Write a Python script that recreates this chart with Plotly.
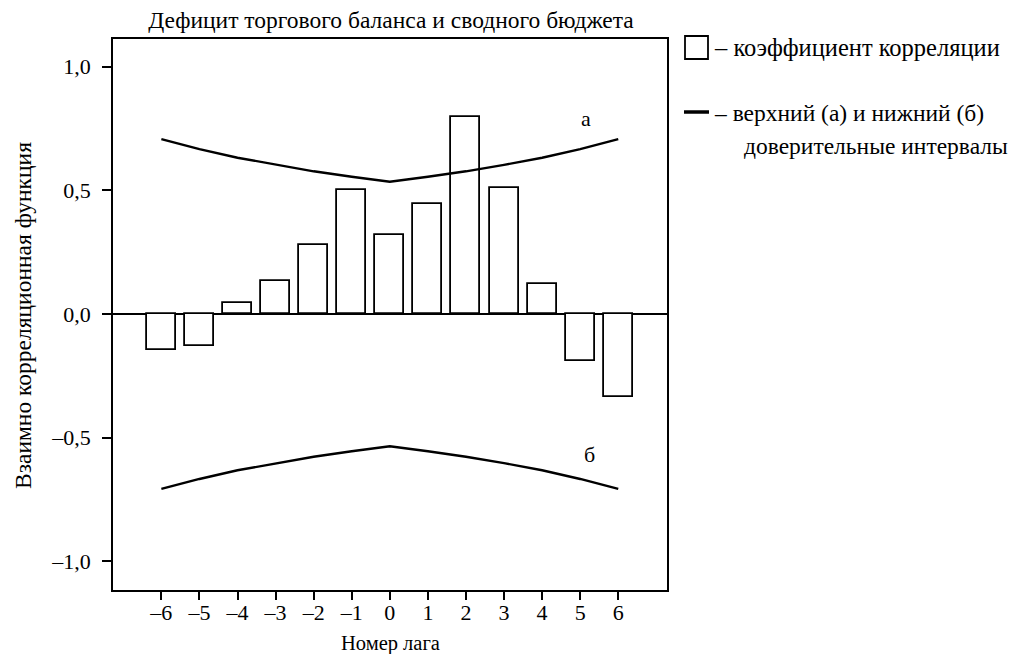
import plotly.graph_objects as go

lags = [-6, -5, -4, -3, -2, -1, 0, 1, 2, 3, 4, 5, 6]
ccf = [-0.145, -0.13, 0.044, 0.133, 0.28, 0.50, 0.32, 0.443, 0.795, 0.508, 0.12, -0.19, -0.334]
upper = [0.707, 0.667, 0.632, 0.603, 0.577, 0.555, 0.535, 0.555, 0.577, 0.603, 0.632, 0.667, 0.707]
lower = [-0.707, -0.667, -0.632, -0.603, -0.577, -0.555, -0.535, -0.555, -0.577, -0.603, -0.632, -0.667, -0.707]
ytick_vals = [1.0, 0.5, 0.0, -0.5, -1.0]
ytick_text = ["1,0", "0,5", "0,0", "–0,5", "–1,0"]
xtick_text = ["–6", "–5", "–4", "–3", "–2", "–1", "0", "1", "2", "3", "4", "5", "6"]

FONT = "Liberation Serif"

# page offset (body margin) compensation
OFF = 8
W, H = 1018 - OFF, 654 - OFF
PL, PR, PT, PB = 113, 667, 39, 590  # target plot box on screen

fig = go.Figure()
fig.add_trace(go.Bar(
    x=lags, y=ccf, width=0.76,
    marker=dict(color="white", line=dict(color="black", width=1.8)),
    showlegend=False,
))
fig.add_trace(go.Scatter(x=lags, y=upper, mode="lines",
                         line=dict(color="black", width=2.4), showlegend=False))
fig.add_trace(go.Scatter(x=lags, y=lower, mode="lines",
                         line=dict(color="black", width=2.4), showlegend=False))

fig.update_layout(
    width=W, height=H,
    margin=dict(l=PL - OFF, r=W - (PR - OFF), t=PT - OFF, b=H - (PB - OFF)),
    plot_bgcolor="white", paper_bgcolor="white",
    font=dict(family=FONT, size=22, color="black"),
    title=dict(text="Дефицит торгового баланса и сводного бюджета",
               x=(391 - OFF) / W, xanchor="center",
               y=1 - (20 - OFF) / H, yanchor="middle",
               font=dict(family=FONT, size=23.5)),
    xaxis=dict(range=[-7.27, 7.28], tickmode="array", tickvals=lags, ticktext=xtick_text,
               ticks="outside", ticklen=8, tickwidth=1.5, tickcolor="black",
               showline=True, linecolor="black", linewidth=1.6, mirror=True,
               showgrid=False, zeroline=False, automargin=False,
               ticklabelstandoff=-6,
               tickfont=dict(size=22)),
    yaxis=dict(range=[-1.116, 1.112], tickmode="array", tickvals=ytick_vals, ticktext=ytick_text,
               ticks="outside", ticklen=9, tickwidth=1.5, tickcolor="black",
               showline=True, linecolor="black", linewidth=1.6, mirror=True,
               showgrid=False, zeroline=True, zerolinecolor="black", zerolinewidth=1.6,
               automargin=False, ticklabelstandoff=7,
               tickfont=dict(size=22)),
    bargap=0,
)

fx = lambda v: (v - PL) / (PR - PL)
fy = lambda v: (PB - v) / (PB - PT)

# axis titles
fig.add_annotation(xref="paper", yref="paper", x=fx(390), y=fy(643),
                   xanchor="center", yanchor="middle", showarrow=False,
                   text="Номер лага", font=dict(family=FONT, size=20.5))
fig.add_annotation(xref="paper", yref="paper", x=fx(23), y=fy(316),
                   xanchor="center", yanchor="middle", showarrow=False, textangle=-90,
                   borderpad=0,
                   text="Взаимно корреляционная функция", font=dict(family=FONT, size=23.5))

# curve labels
fig.add_annotation(x=5.15, y=0.79, text="а", showarrow=False, xref="x", yref="y",
                   font=dict(family=FONT, size=22))
fig.add_annotation(x=5.25, y=-0.57, text="б", showarrow=False, xref="x", yref="y",
                   font=dict(family=FONT, size=22))

# custom legend (plot-relative paper coords)
fig.add_shape(type="rect", xref="paper", yref="paper",
              x0=fx(685), x1=fx(708), y0=fy(59), y1=fy(36),
              line=dict(color="black", width=1.8), fillcolor="white")
fig.add_shape(type="line", xref="paper", yref="paper",
              x0=fx(684), x1=fx(709), y0=fy(112), y1=fy(112),
              line=dict(color="black", width=3.5))
fig.add_annotation(xref="paper", yref="paper", x=fx(712), y=fy(48),
                   xanchor="left", yanchor="middle", showarrow=False,
                   text="– коэффициент корреляции", font=dict(family=FONT, size=24.5))
fig.add_annotation(xref="paper", yref="paper", x=fx(712), y=fy(113),
                   xanchor="left", yanchor="middle", showarrow=False,
                   text="– верхний (а) и нижний (б)", font=dict(family=FONT, size=23.5))
fig.add_annotation(xref="paper", yref="paper", x=fx(742), y=fy(146),
                   xanchor="left", yanchor="middle", showarrow=False,
                   text="доверительные интервалы", font=dict(family=FONT, size=23.5))

fig.write_html("out.html")
